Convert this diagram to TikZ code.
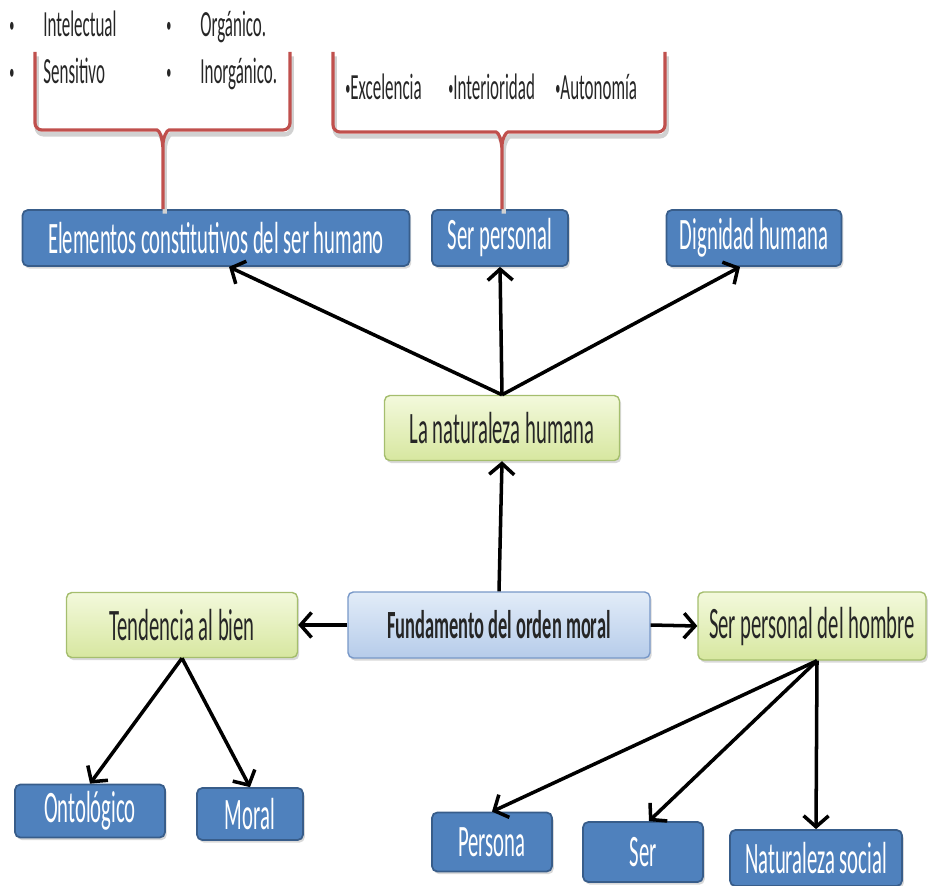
\documentclass[tikz,border=0pt]{standalone}
\usepackage{fontspec}
\newfontfamily\narrowfont{Carlito}[FakeStretch=0.46]
\newcommand{\dotitem}{\raisebox{.12em}{\scalebox{.6}{•}}}
\usetikzlibrary{arrows.meta, calc, shadows}

\definecolor{boxblue}{RGB}{79,129,189}
\definecolor{boxblueline}{RGB}{56,93,138}
\definecolor{greentop}{RGB}{243,249,220}
\definecolor{greenbot}{RGB}{215,231,160}
\definecolor{greenline}{RGB}{165,190,110}
\definecolor{paletop}{RGB}{226,236,248}
\definecolor{palebot}{RGB}{182,204,234}
\definecolor{paleline}{RGB}{120,152,200}
\definecolor{bracered}{RGB}{192,80,77}

\begin{document}
\begin{tikzpicture}[x=0.02cm, y=-0.02cm,
    bigfont/.style={font=\narrowfont\fontsize{25.6}{28}\selectfont},
    smallfont/.style={font=\narrowfont\fontsize{21}{24}\selectfont},
    boxshadow/.style={drop shadow={shadow xshift=1pt, shadow yshift=-1.5pt, opacity=.3}},
    bluebox/.style={bigfont, boxshadow, draw=boxblueline, line width=1pt, fill=boxblue,
                    rounded corners=3pt, text=white, inner sep=0pt},
    greenbox/.style={bigfont, boxshadow, draw=greenline, line width=.8pt,
                     top color=greentop, bottom color=greenbot,
                     rounded corners=3pt, text=black!85, inner sep=0pt},
    palebox/.style={boxshadow, draw=paleline, line width=.8pt,
                    top color=paletop, bottom color=palebot,
                    rounded corners=3pt, text=black!85, inner sep=0pt,
                    font=\narrowfont\bfseries\fontsize{22.8}{25}\selectfont},
    arr/.style={line width=2pt, -{Straight Barb[length=2.2mm, width=5mm]}},
    bracepath/.style={draw=bracered, line width=1.8pt, rounded corners=4pt,
                      preaction={draw=black!18, line width=2.5pt,
                                 transform canvas={shift={(1pt,-2.5pt)}}}},
    listtext/.style={smallfont, text=black!85, inner sep=0pt, anchor=base west}]
  \useasboundingbox (0,0) rectangle (928,885);

  % upper row
  \node[bluebox, minimum width=7.74cm, minimum height=1.12cm] (elem) at (216,238) {Elementos constitutivos del ser humano};
  \node[bluebox, minimum width=2.72cm, minimum height=1.12cm] (serp) at (500,238) {Ser personal};
  \node[bluebox, minimum width=3.5cm,  minimum height=1.12cm] (dign) at (754,238) {Dignidad humana};

  \node[greenbox, minimum width=4.7cm, minimum height=1.3cm] (nat) at (502,428) {La naturaleza humana};

  % middle row
  \node[palebox,  minimum width=6.04cm, minimum height=1.32cm] (fund) at (499,625) {Fundamento del orden moral};
  \node[greenbox, minimum width=4.62cm, minimum height=1.3cm]  (tend) at (182,625) {Tendencia al bien};
  \node[greenbox, minimum width=4.56cm, minimum height=1.36cm] (sph)  at (812,626) {Ser personal del hombre};

  % lower row
  \node[bluebox, minimum width=3cm,    minimum height=1.06cm] (onto)    at (90,811)  {Ontológico};
  \node[bluebox, minimum width=2.12cm, minimum height=1.04cm] (moral)   at (250,814) {Moral};
  \node[bluebox, minimum width=2.4cm,  minimum height=1.18cm] (persona) at (492,842) {Persona};
  \node[bluebox, minimum width=2.4cm,  minimum height=1.2cm]  (ser)     at (643,852) {Ser};
  \node[bluebox, minimum width=3.44cm, minimum height=1.12cm] (natsoc)  at (816,858) {Naturaleza social};

  % lists above the braces
  \node[listtext] (bula) at (9,37)    {\dotitem};
  \node[listtext] (intel) at (43,37)  {Intelectual};
  \node[listtext] (bulb) at (9,84)    {\dotitem};
  \node[listtext] (sens) at (43,84)   {Sensitivo};
  \node[listtext] (bulc) at (166,37)  {\dotitem};
  \node[listtext] (org) at (200,37)   {Orgánico.};
  \node[listtext] (buld) at (166,84)  {\dotitem};
  \node[listtext] (inorg) at (200,84) {Inorgánico.};
  \node[listtext] (exc) at (345,100)   {\dotitem Excelencia};
  \node[listtext] (inter) at (448,100) {\dotitem Interioridad};
  \node[listtext] (auto) at (555,100)  {\dotitem Autonomía};

  % braces
  \coordinate (tipa) at (163,152);
  \coordinate (tipb) at (502,152);
  \draw[bracepath] (35,52) -- (35,130) -- (150,130) .. controls (159,130) and (163,137) .. (tipa)
                   (290,52) -- (290,130) -- (176,130) .. controls (167,130) and (163,137) .. (tipa)
                   -- (tipa |- elem.north);
  \draw[bracepath] (333,52) -- (333,132) -- (489,132) .. controls (498,132) and (502,139) .. (tipb)
                   (665,52) -- (665,132) -- (515,132) .. controls (506,132) and (502,139) .. (tipb)
                   -- (tipb |- serp.north);

  % connectors
  \draw[arr] (nat.north) -- ($(elem.south)+(13,0)$);
  \draw[arr] (nat.north) -- (serp.south);
  \draw[arr] (nat.north) -- ($(dign.south)+(-14,0)$);
  \draw[arr] (fund.north) -- (nat.south);
  \draw[arr] (fund.west) -- (tend.east);
  \draw[arr] (fund.east) -- (sph.west);
  \draw[arr] (tend.south) -- (onto.north);
  \draw[arr] (tend.south) -- (moral.north);
  \draw[arr] ($(sph.south)+(5,0)$) -- (persona.north);
  \draw[arr] ($(sph.south)+(5,0)$) -- ($(ser.north)+(6,0)$);
  \draw[arr] ($(sph.south)+(5,0)$) -- (natsoc.north);
\end{tikzpicture}
\end{document}
